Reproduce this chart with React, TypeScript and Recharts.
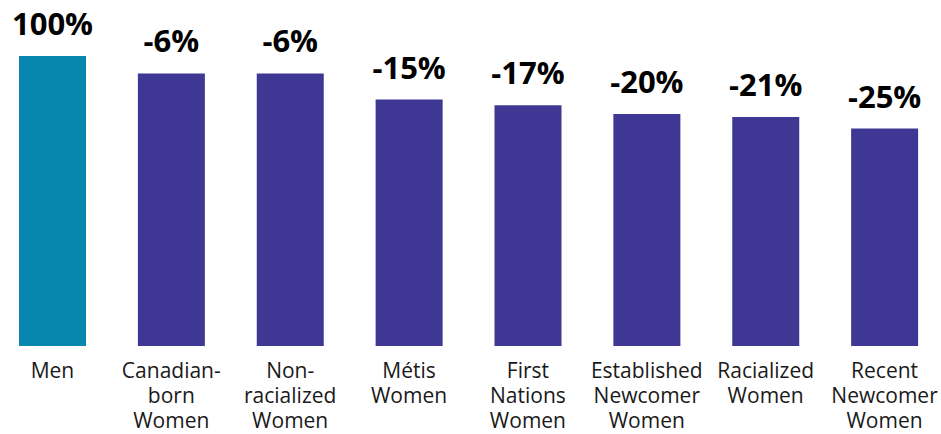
import React from "react";
import { BarChart, Bar, XAxis, YAxis, Cell, LabelList } from "recharts";

const categories = [
  "Men",
  "Canadian-born Women",
  "Non-racialized Women",
  "Métis Women",
  "First Nations Women",
  "Established Newcomer Women",
  "Racialized Women",
  "Recent Newcomer Women",
];
const tickLines = [
  ["Men"],
  ["Canadian-", "born", "Women"],
  ["Non-", "racialized", "Women"],
  ["Métis", "Women"],
  ["First", "Nations", "Women"],
  ["Established", "Newcomer", "Women"],
  ["Racialized", "Women"],
  ["Recent", "Newcomer", "Women"],
];
const values = [100, 94, 94, 85, 83, 80, 79, 75];
const valueLabels = ["100%", "-6%", "-6%", "-15%", "-17%", "-20%", "-21%", "-25%"];
const colors = ["#0787ad", "#3f3794", "#3f3794", "#3f3794", "#3f3794", "#3f3794", "#3f3794", "#3f3794"];

const data = categories.map((c, i) => ({ name: c, value: values[i], label: valueLabels[i], idx: i }));

const FONT = "'Open Sans', sans-serif";

const Tick = (props: any) => {
  const { x, y, payload } = props;
  const idx = categories.indexOf(payload.value);
  const lines = tickLines[idx] || [payload.value];
  return (
    <text
      x={x}
      y={y + 32}
      textAnchor="middle"
      fontFamily={FONT}
      fontSize={21}
      fill="#1a1a1a"
    >
      {lines.map((l, i) => (
        <tspan key={i} x={x} dy={i === 0 ? 0 : 25}>
          {l}
        </tspan>
      ))}
    </text>
  );
};

const ValueLabel = (props: any) => {
  const { x, y, width, index } = props;
  return (
    <text
      x={x + width / 2}
      y={y - 21}
      textAnchor="middle"
      fontFamily={FONT}
      fontWeight={700}
      fontSize={31}
      fill="#000"
    >
      {valueLabels[index]}
    </text>
  );
};

export default function App() {
  return (
    <div style={{ position: "absolute", left: 0, top: 0, width: 941, height: 434, background: "#fff" }}>
      <BarChart
        width={941}
        height={434}
        data={data}
        margin={{ top: 56, right: -3, bottom: 0, left: -7 }}
      >
        <XAxis
          dataKey="name"
          axisLine={false}
          tickLine={false}
          tickSize={0}
          tickMargin={0}
          height={88}
          interval={0}
          tick={<Tick />}
        />
        <YAxis hide domain={[0, 100]} />
        <Bar dataKey="value" barSize={67} isAnimationActive={false}>
          {data.map((d, i) => (
            <Cell key={i} fill={colors[i]} />
          ))}
          <LabelList dataKey="label" content={<ValueLabel />} />
        </Bar>
      </BarChart>
    </div>
  );
}
